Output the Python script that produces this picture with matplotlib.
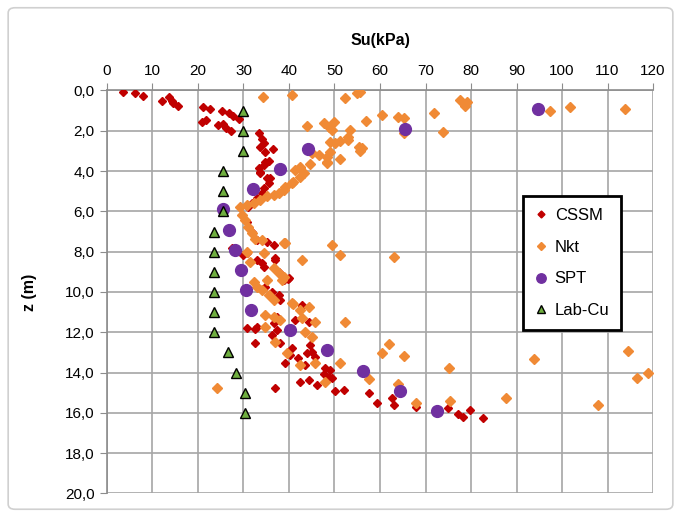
import numpy as np
import matplotlib
matplotlib.use('Agg')
import matplotlib.pyplot as plt
from matplotlib.patches import FancyBboxPatch
from matplotlib.ticker import FuncFormatter

plt.rcParams['font.family'] = ['Liberation Sans', 'DejaVu Sans']

# CSSM points (Su kPa, z m)
cssm_su = [3.6, 6.2, 8.0, 12.0, 13.6, 14.2, 14.6, 15.5, 21.2, 22.6, 25.3, 26.8, 27.8, 29.1, 20.8, 21.8,
           24.5, 25.4, 26.2, 27.3, 33.5, 34.0, 34.4, 33.6, 34.7, 36.4, 35.5, 34.4, 33.3, 33.6, 35.1, 35.5,
           34.4, 34.0, 32.9, 34.7, 33.6, 35.8, 31.8, 31.1, 30.7, 31.8, 32.9, 35.1, 36.6, 27.4, 30.7, 32.9,
           36.9, 30.0, 34.0, 34.4, 36.9, 37.7, 39.9, 38.8, 39.8, 34.7, 36.2, 37.7, 38.0, 42.8, 42.8, 41.3,
           44.3, 32.9, 37.3, 30.7, 32.5, 36.6, 37.3, 36.2, 38.0, 32.5, 40.6, 40.2, 39.1, 42.0, 43.5, 44.6,
           43.9, 45.7, 45.0, 48.0, 49.0, 47.6, 48.7, 49.4, 42.4, 44.3, 46.1, 50.1, 52.0, 36.9, 57.5, 59.3,
           62.6, 63.0, 68.0, 75.0, 77.2, 78.3, 79.8, 82.6]
cssm_z = [0.09, 0.14, 0.26, 0.51, 0.31, 0.50, 0.60, 0.75, 0.80, 0.92, 1.00, 1.13, 1.25, 1.41, 1.58, 1.46,
          1.71, 1.66, 1.84, 2.01, 2.12, 2.42, 2.62, 2.79, 3.04, 2.90, 3.48, 3.70, 3.86, 4.11, 4.36, 4.60,
          4.85, 5.10, 5.35, 3.53, 4.03, 4.36, 5.57, 5.77, 6.51, 7.00, 7.42, 7.50, 7.67, 7.83, 8.08, 8.41,
          8.41, 8.16, 8.58, 8.74, 8.33, 8.99, 9.32, 9.40, 9.35, 9.74, 9.99, 10.15, 10.40, 10.65, 10.70, 11.39,
          11.50, 11.72, 11.23, 11.80, 11.85, 11.55, 11.89, 12.13, 12.55, 12.52, 12.80, 13.13, 13.51, 13.29, 13.62, 12.63,
          13.01, 13.21, 12.96, 13.79, 13.87, 14.07, 14.20, 14.28, 14.45, 14.37, 14.62, 14.90, 14.86, 14.78, 15.00, 15.52,
          15.28, 15.61, 15.69, 15.77, 16.05, 16.19, 15.86, 16.27]

# Nkt points
nkt_su = [34.2, 40.6, 52.4, 54.9, 55.6, 77.6, 79.1, 78.7, 97.3, 101.8, 113.9, 43.9, 47.6, 48.7, 49.4, 49.8,
          53.4, 57.0, 60.4, 64.0, 65.2, 65.2, 71.8, 73.8, 49.0, 50.1, 51.1, 53.0, 53.0, 49.0, 55.3, 56.0,
          55.6, 51.2, 48.3, 48.3, 46.5, 45.0, 44.6, 42.4, 41.3, 48.3, 42.4, 43.3, 42.4, 40.9, 40.6, 39.1,
          38.8, 37.7, 36.6, 35.1, 33.6, 32.2, 30.7, 29.2, 29.6, 30.3, 31.1, 31.8, 32.5, 34.0, 39.1, 49.4,
          38.8, 51.2, 42.8, 63.0, 30.7, 31.4, 34.4, 36.6, 37.7, 38.8, 38.5, 32.2, 32.9, 35.1, 34.0, 35.5,
          36.6, 40.6, 44.3, 42.4, 40.9, 42.8, 45.7, 34.7, 36.6, 38.0, 34.7, 52.3, 36.9, 39.5, 42.4, 43.5,
          45.0, 45.7, 48.0, 51.2, 61.9, 60.4, 65.2, 57.5, 64.0, 68.0, 75.4, 75.2, 87.7, 93.9, 108.0, 114.6,
          116.4, 119.0, 24.2]
nkt_z = [0.31, 0.22, 0.39, 0.14, 0.06, 0.47, 0.56, 0.77, 1.00, 0.80, 0.92, 1.75, 1.63, 1.80, 1.96, 1.55,
         1.96, 1.50, 1.22, 1.30, 1.38, 2.12, 1.13, 2.07, 2.54, 2.62, 2.51, 2.29, 2.46, 3.04, 2.79, 2.87,
         2.99, 3.40, 3.28, 3.53, 3.20, 3.12, 3.65, 3.86, 3.95, 3.58, 3.78, 4.11, 4.28, 4.53, 4.58, 4.77,
         4.94, 5.07, 5.19, 5.24, 5.44, 5.60, 5.68, 5.77, 6.18, 6.43, 6.76, 7.09, 7.38, 7.42, 7.55, 7.67,
         7.58, 8.16, 8.41, 8.25, 8.00, 8.50, 8.08, 8.82, 9.07, 9.24, 9.40, 9.49, 9.74, 9.40, 9.90, 10.15,
         10.40, 10.57, 10.73, 10.90, 10.60, 11.31, 11.47, 11.14, 11.23, 11.39, 11.72, 11.50, 12.47, 13.04, 13.62, 11.97,
         12.22, 13.51, 14.45, 13.54, 12.58, 13.01, 13.18, 14.33, 14.57, 15.52, 15.39, 13.76, 15.24, 13.34, 15.61, 12.91,
         14.25, 14.00, 14.75]

# SPT
spt_su = [94.8, 65.5, 44.2, 38.0, 32.0, 25.6, 26.9, 28.1, 29.5, 30.5, 31.6, 40.2, 48.3, 56.3, 64.5, 72.6]
spt_z = [0.9, 1.9, 2.9, 3.9, 4.9, 5.9, 6.9, 7.9, 8.9, 9.9, 10.9, 11.9, 12.9, 13.9, 14.9, 15.9]

# Lab-Cu
lab_su = [30, 30, 30, 25.5, 25.5, 25.5, 23.5, 23.5, 23.5, 23.5, 23.5, 23.5, 26.5, 28.3, 30.3, 30.3]
lab_z = [1, 2, 3, 4, 5, 6, 7, 8, 9, 10, 11, 12, 13, 14, 15, 16]

fig = plt.figure(figsize=(6.81, 5.17), dpi=100)
ax = fig.add_axes([0.1571, 0.0455, 0.8018, 0.7795])

# bord gris du cadre
fig.patches.append(FancyBboxPatch((0.012, 0.015), 0.976, 0.97, boxstyle='round,pad=0,rounding_size=0.01',
                                  transform=fig.transFigure, fc='none', ec='#d0d0d0', lw=1.2))

ax.plot(cssm_su, cssm_z, 'D', ms=4.4, color='#c00000', mec='#c00000', ls='none', label='CSSM', zorder=3)
ax.plot(nkt_su, nkt_z, 'D', ms=4.6, color='#f08a35', mec='#f08a35', ls='none', label='Nkt', zorder=3)
ax.plot(spt_su, spt_z, 'o', ms=8.5, color='#7030a0', mec='#7030a0', ls='none', label='SPT', zorder=4)
ax.plot(lab_su, lab_z, '^', ms=7.5, color='#6fae3f', mec='black', mew=1, ls='none', label='Lab-Cu', zorder=5)

ax.set_xlim(0, 120)
ax.set_ylim(20, 0)
ax.set_xticks(np.arange(0, 121, 10))
ax.set_yticks(np.arange(0, 21, 2))
ax.yaxis.set_major_formatter(FuncFormatter(lambda v, p: ('%.1f' % v).replace('.', ',')))
ax.xaxis.tick_top()
ax.xaxis.set_label_position('top')
ax.tick_params(axis='both', direction='out', length=5, color='#8c8c8c', labelsize=11, pad=4)
ax.tick_params(axis='x', pad=4)
ax.grid(True, color='#a6a6a6', lw=1.2)
ax.set_axisbelow(True)
for s in ['bottom', 'right']:
    ax.spines[s].set_visible(False)
for s in ['top', 'left']:
    ax.spines[s].set_color('#8c8c8c')
    ax.spines[s].set_linewidth(1.2)

ax.set_xlabel('Su(kPa)', fontsize=11.5, fontweight='bold', labelpad=14)
ax.set_ylabel('z (m)', fontsize=11.5, fontweight='bold', labelpad=20)

leg = ax.legend(loc='upper left', bbox_to_anchor=(0.762, 0.737), fontsize=12, frameon=True, fancybox=False,
                markerscale=0.8, handlelength=0.8, handletextpad=0.4, labelspacing=1.0, borderpad=0.7,
                borderaxespad=0)
leg.get_frame().set_edgecolor('black')
leg.get_frame().set_linewidth(2)
leg.get_frame().set_alpha(1)

fig.savefig('out.png', dpi=100)
